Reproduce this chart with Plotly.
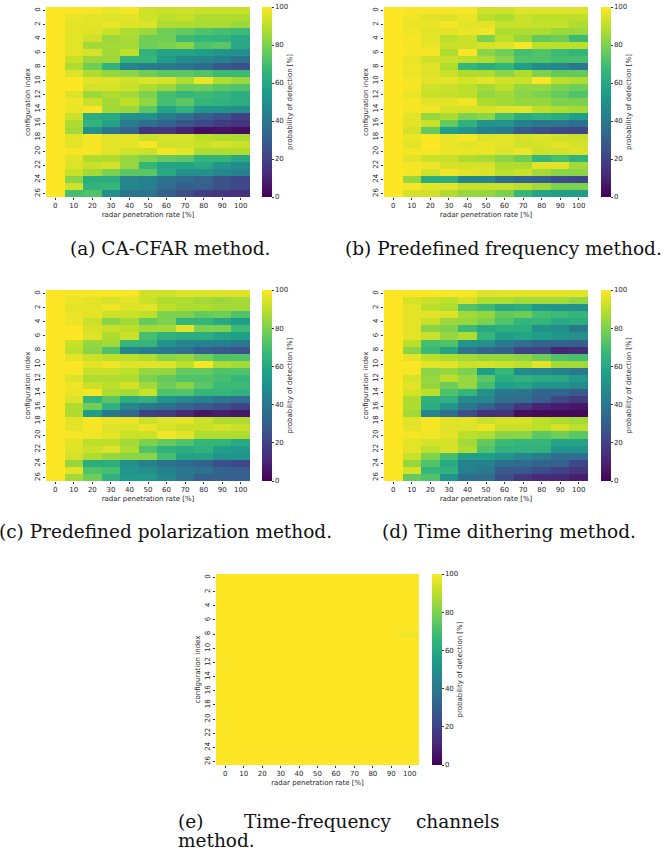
import plotly.graph_objects as go

rates = ["0", "10", "20", "30", "40", "50", "60", "70", "80", "90", "100"]
configs = list(range(27))

ca_cfar = [
    [100, 99, 99, 97, 99, 93, 92, 93, 92, 92, 92],
    [100, 97, 96, 95, 96, 93, 90, 91, 88, 88, 88],
    [100, 96, 96, 97, 95, 95, 88, 88, 87, 87, 85],
    [100, 96, 95, 92, 88, 85, 78, 76, 72, 70, 68],
    [100, 96, 93, 85, 87, 78, 78, 68, 66, 65, 60],
    [100, 96, 86, 86, 86, 78, 80, 82, 72, 74, 60],
    [100, 96, 94, 86, 90, 65, 58, 58, 56, 52, 50],
    [100, 92, 85, 85, 66, 66, 55, 48, 46, 44, 38],
    [100, 88, 78, 65, 45, 42, 40, 38, 34, 28, 25],
    [100, 95, 88, 84, 82, 78, 74, 74, 72, 68, 68],
    [100, 100, 96, 95, 93, 95, 94, 88, 97, 88, 85],
    [100, 100, 94, 94, 92, 88, 85, 78, 78, 74, 72],
    [100, 95, 85, 88, 86, 80, 70, 66, 68, 66, 62],
    [100, 98, 92, 86, 90, 83, 70, 74, 66, 64, 62],
    [100, 97, 99, 86, 85, 74, 58, 64, 52, 52, 50],
    [100, 92, 62, 60, 50, 50, 42, 36, 30, 25, 20],
    [100, 88, 65, 58, 42, 36, 32, 26, 22, 18, 15],
    [100, 86, 50, 38, 32, 15, 15, 10, 4, 5, 4],
    [100, 96, 99, 96, 96, 92, 94, 94, 90, 88, 87],
    [100, 96, 99, 96, 96, 99, 93, 93, 92, 94, 92],
    [100, 99, 99, 96, 93, 92, 98, 96, 88, 88, 88],
    [100, 96, 88, 88, 84, 80, 76, 74, 66, 66, 60],
    [100, 95, 92, 94, 84, 66, 58, 58, 60, 52, 48],
    [100, 92, 86, 80, 74, 74, 60, 50, 50, 46, 44],
    [100, 82, 62, 62, 46, 44, 38, 34, 32, 25, 22],
    [100, 93, 65, 66, 46, 44, 35, 30, 30, 25, 22],
    [100, 70, 72, 50, 38, 38, 30, 24, 18, 16, 14],
]

predef_freq = [
    [100, 99, 99, 99, 99, 93, 93, 95, 95, 95, 95],
    [100, 98, 96, 95, 97, 90, 88, 92, 90, 90, 90],
    [100, 97, 97, 99, 96, 96, 91, 92, 91, 91, 88],
    [100, 98, 96, 96, 97, 98, 88, 88, 88, 85, 85],
    [100, 99, 96, 90, 92, 80, 90, 84, 76, 78, 68],
    [100, 99, 97, 92, 92, 94, 95, 99, 90, 90, 90],
    [100, 99, 99, 88, 99, 82, 78, 70, 72, 68, 66],
    [100, 97, 93, 92, 90, 88, 82, 72, 72, 70, 70],
    [100, 98, 96, 88, 66, 62, 66, 56, 48, 46, 40],
    [100, 97, 95, 92, 88, 88, 82, 88, 80, 76, 76],
    [100, 99, 96, 96, 94, 96, 93, 92, 99, 90, 88],
    [100, 99, 93, 92, 90, 86, 90, 84, 84, 80, 78],
    [100, 97, 92, 91, 90, 84, 86, 82, 80, 76, 72],
    [100, 99, 96, 96, 98, 88, 86, 84, 84, 80, 80],
    [100, 99, 98, 94, 94, 94, 95, 96, 90, 88, 86],
    [100, 96, 84, 88, 80, 82, 70, 62, 64, 62, 56],
    [100, 96, 92, 76, 64, 52, 52, 44, 40, 40, 36],
    [100, 94, 76, 56, 52, 44, 40, 28, 25, 22, 22],
    [100, 97, 100, 97, 99, 95, 96, 94, 95, 93, 92],
    [100, 96, 100, 97, 96, 97, 96, 93, 94, 96, 94],
    [100, 99, 99, 97, 97, 97, 95, 97, 93, 93, 95],
    [100, 96, 92, 92, 88, 86, 82, 78, 66, 70, 64],
    [100, 99, 98, 94, 94, 94, 88, 88, 96, 96, 86],
    [100, 99, 93, 98, 96, 95, 90, 92, 86, 82, 82],
    [100, 84, 62, 62, 46, 46, 36, 32, 30, 24, 22],
    [100, 99, 96, 96, 92, 92, 92, 90, 86, 80, 80],
    [100, 94, 93, 88, 84, 84, 80, 66, 58, 56, 56],
]

predef_pol = [
    [100, 99, 99, 99, 99, 93, 93, 95, 95, 95, 95],
    [100, 97, 96, 94, 96, 92, 88, 88, 86, 85, 86],
    [100, 96, 96, 98, 95, 96, 90, 88, 88, 86, 86],
    [100, 97, 96, 92, 92, 90, 80, 80, 76, 78, 72],
    [100, 97, 92, 82, 86, 76, 80, 66, 66, 60, 56],
    [100, 100, 94, 92, 90, 86, 86, 96, 80, 80, 68],
    [100, 100, 95, 88, 92, 70, 64, 62, 62, 58, 56],
    [100, 92, 84, 86, 66, 66, 52, 46, 44, 44, 40],
    [100, 90, 82, 72, 46, 42, 40, 36, 30, 28, 25],
    [100, 96, 92, 90, 90, 88, 82, 84, 78, 72, 72],
    [100, 100, 96, 98, 95, 96, 95, 90, 99, 88, 86],
    [100, 99, 92, 92, 90, 84, 84, 76, 76, 72, 72],
    [100, 95, 88, 88, 88, 80, 76, 72, 72, 70, 66],
    [100, 98, 92, 90, 94, 86, 78, 82, 74, 68, 68],
    [100, 97, 99, 88, 86, 92, 72, 72, 66, 66, 64],
    [100, 95, 66, 74, 62, 64, 52, 48, 44, 40, 36],
    [100, 88, 78, 64, 46, 40, 36, 32, 28, 24, 20],
    [100, 88, 55, 40, 34, 20, 18, 12, 6, 8, 6],
    [100, 96, 99, 97, 97, 92, 95, 96, 92, 88, 88],
    [100, 96, 99, 95, 95, 97, 94, 92, 92, 94, 92],
    [100, 99, 98, 96, 92, 92, 98, 96, 88, 88, 88],
    [100, 96, 90, 90, 86, 80, 76, 72, 66, 66, 60],
    [100, 95, 92, 95, 88, 72, 64, 62, 64, 56, 54],
    [100, 94, 88, 84, 82, 82, 70, 58, 58, 52, 52],
    [100, 84, 62, 62, 50, 44, 38, 34, 32, 24, 22],
    [100, 96, 72, 70, 52, 50, 44, 40, 38, 32, 30],
    [100, 86, 78, 64, 54, 54, 46, 38, 30, 30, 30],
]

time_dither = [
    [100, 100, 100, 99, 99, 95, 96, 96, 96, 96, 96],
    [100, 94, 92, 90, 94, 88, 88, 86, 86, 86, 84],
    [100, 96, 90, 88, 72, 68, 60, 62, 54, 52, 50],
    [100, 96, 96, 95, 86, 84, 76, 78, 70, 68, 66],
    [100, 96, 92, 85, 84, 80, 72, 66, 66, 60, 62],
    [100, 96, 82, 80, 68, 60, 62, 62, 50, 50, 40],
    [100, 96, 92, 84, 88, 66, 56, 58, 56, 52, 50],
    [100, 90, 70, 72, 52, 50, 42, 36, 32, 32, 30],
    [100, 82, 68, 58, 38, 32, 30, 20, 20, 10, 12],
    [100, 96, 90, 88, 86, 84, 84, 82, 78, 72, 70],
    [100, 100, 96, 96, 92, 94, 92, 90, 96, 86, 86],
    [100, 99, 82, 84, 80, 56, 66, 48, 46, 44, 40],
    [100, 94, 84, 90, 84, 74, 62, 64, 62, 60, 54],
    [100, 96, 84, 78, 84, 70, 56, 58, 52, 52, 48],
    [100, 94, 90, 72, 66, 50, 40, 38, 32, 32, 28],
    [100, 88, 64, 64, 48, 46, 36, 36, 30, 22, 18],
    [100, 88, 62, 52, 40, 32, 24, 16, 10, 8, 6],
    [100, 86, 46, 36, 24, 14, 14, 4, 2, 2, 2],
    [100, 96, 99, 96, 96, 92, 94, 94, 90, 88, 86],
    [100, 96, 99, 95, 95, 97, 92, 92, 90, 94, 90],
    [100, 99, 98, 96, 90, 88, 82, 82, 74, 78, 74],
    [100, 96, 94, 94, 86, 76, 68, 66, 66, 58, 58],
    [100, 96, 90, 94, 88, 72, 64, 64, 64, 52, 52],
    [100, 92, 80, 70, 56, 56, 52, 46, 42, 36, 36],
    [100, 84, 72, 60, 44, 44, 36, 34, 32, 30, 22],
    [100, 94, 66, 64, 44, 40, 28, 28, 24, 20, 16],
    [100, 76, 72, 52, 36, 36, 24, 16, 12, 12, 8],
]

time_freq = [[100] * 11 for _ in range(27)]
time_freq[8][10] = 98

W, H = 664, 850
TICK_FONT = dict(family="DejaVu Sans", size=7, color="#262626")
CAP_FONT = dict(family="DejaVu Serif", size=18.5, color="#111111")

# panel boxes in pixels: (x0, x1, y0, y1, colorbar_x)
panels = [
    (ca_cfar, (46, 250, 7, 197, 262)),
    (predef_freq, (384, 588, 7, 197, 601)),
    (predef_pol, (46, 250, 290, 481, 262)),
    (time_dither, (384, 588, 290, 481, 601)),
    (time_freq, (216, 419, 574, 765, 432)),
]

fig = go.Figure()
layout = {}
for i, (z, (x0, x1, y0, y1, cbx)) in enumerate(panels):
    n = "" if i == 0 else str(i + 1)
    fig.add_trace(go.Heatmap(
        z=z, x=rates, y=configs,
        xaxis="x" + n, yaxis="y" + n,
        colorscale="Viridis", zmin=0, zmax=100,
        colorbar=dict(
            x=cbx / W, xanchor="left", xpad=0, ypad=0,
            y=1 - (y0 + y1) / 2 / H, yanchor="middle",
            len=(y1 - y0) / H, lenmode="fraction",
            thickness=10, thicknessmode="pixels",
            outlinewidth=0,
            tickvals=[0, 20, 40, 60, 80, 100],
            ticks="outside", ticklen=2, tickwidth=1, tickcolor="#333",
            tickfont=TICK_FONT,
            title=dict(text="probability of detection [%]", side="right",
                       font=TICK_FONT),
        ),
        hoverinfo="skip",
    ))
    layout["xaxis" + n] = dict(
        domain=[x0 / W, x1 / W], anchor="y" + n,
        type="category", tickmode="array", tickvals=rates, ticktext=rates,
        ticks="outside", ticklen=2, tickcolor="#333", tickfont=TICK_FONT,
        tickangle=0, showgrid=False, zeroline=False, showline=False,
        title=dict(text="radar penetration rate [%]", font=TICK_FONT, standoff=2),
    )
    layout["yaxis" + n] = dict(
        domain=[1 - y1 / H, 1 - y0 / H], anchor="x" + n,
        autorange="reversed", tickmode="array",
        tickvals=list(range(0, 27, 2)), ticktext=[str(v) for v in range(0, 27, 2)],
        ticks="outside", ticklen=2, tickcolor="#333", tickfont=TICK_FONT,
        tickangle=-90, showgrid=False, zeroline=False, showline=False,
        title=dict(text="configuration index", font=TICK_FONT, standoff=2),
    )

captions = [
    ("(a) CA-CFAR method.", 170, 248),
    ("(b) Predefined frequency method.", 503.5, 248),
    ("(c) Predefined polarization method.", 165, 531),
    ("(d) Time dithering method.", 508.5, 531),
]
annotations = []
for text, cx, cy in captions:
    annotations.append(dict(text=text, x=cx / W, y=1 - cy / H, xref="paper", yref="paper",
                            xanchor="center", yanchor="middle", showarrow=False, font=CAP_FONT))
for text, px, anc in [("(e)", 176, "left"), ("Time-frequency", 242, "left"), ("channels", 502, "right")]:
    annotations.append(dict(text=text, x=px / W, y=1 - 821 / H, xref="paper", yref="paper",
                            xanchor=anc, yanchor="middle", showarrow=False, font=CAP_FONT))
annotations.append(dict(text="method.", x=176 / W, y=1 - 840 / H, xref="paper", yref="paper",
                        xanchor="left", yanchor="middle", showarrow=False, font=CAP_FONT))

fig.update_layout(
    width=W, height=H, margin=dict(l=0, r=0, t=0, b=0),
    paper_bgcolor="white", plot_bgcolor="white",
    showlegend=False, annotations=annotations, **layout,
)
fig.write_html("out.html")
